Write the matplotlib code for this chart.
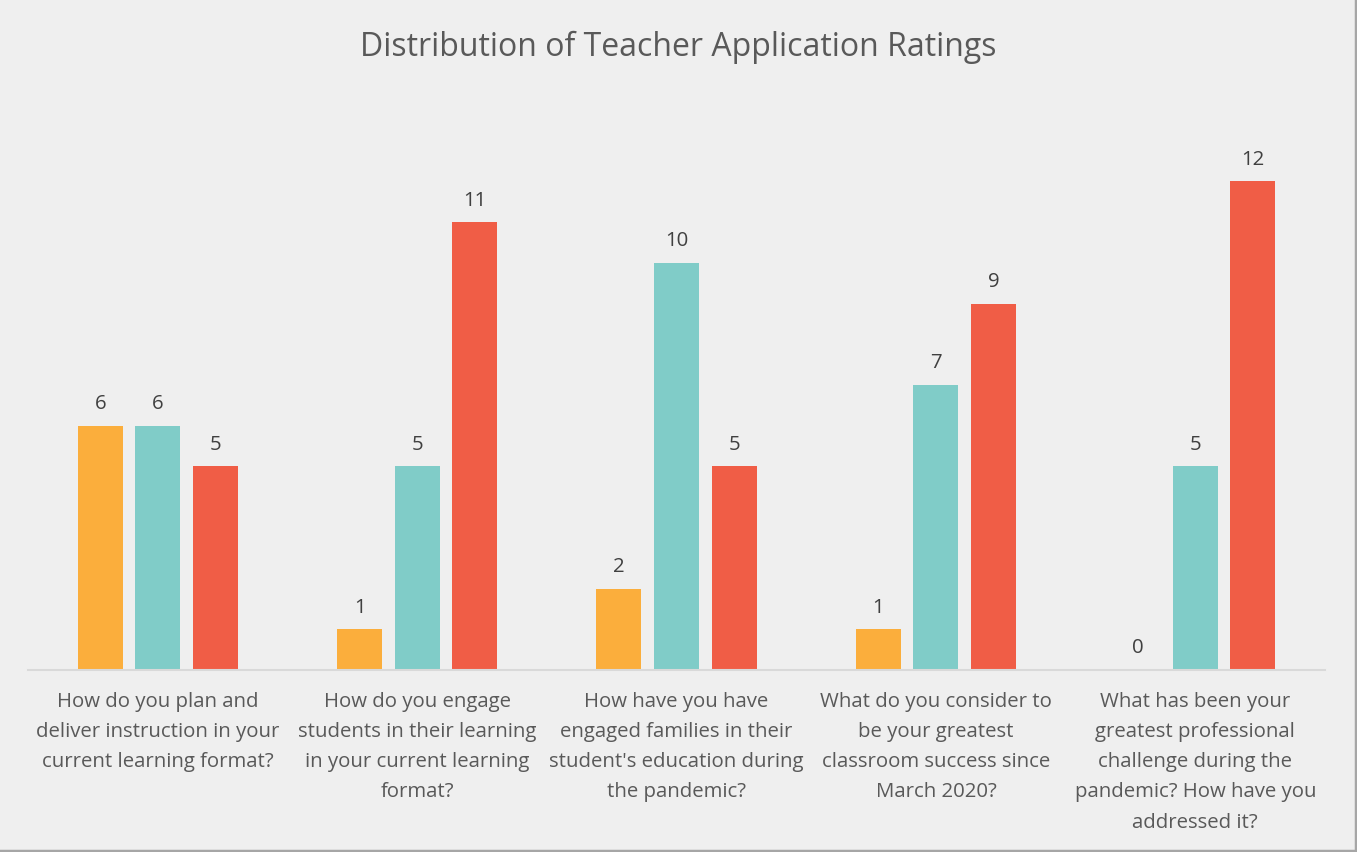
import numpy as np
import matplotlib
matplotlib.use("Agg")
import matplotlib.pyplot as plt
from matplotlib.lines import Line2D

plt.rcParams['font.family'] = ['Open Sans', 'DejaVu Sans']

questions = [
    "How do you plan and\ndeliver instruction in your\ncurrent learning format?",
    "How do you engage\nstudents in their learning\nin your current learning\nformat?",
    "How have you have\nengaged families in their\nstudent's education during\nthe pandemic?",
    "What do you consider to\nbe your greatest\nclassroom success since\nMarch 2020?",
    "What has been your\ngreatest professional\nchallenge during the\npandemic? How have you\naddressed it?",
]
series_names = ["Rating 1", "Rating 2", "Rating 3"]
rating_1 = [6, 1, 2, 1, 0]
rating_2 = [6, 5, 10, 7, 5]
rating_3 = [5, 11, 5, 9, 12]
colors = ["#FBAE3C", "#80CCC8", "#F05D46"]

bg = "#EFEFEF"
W, H = 1357, 853
fig = plt.figure(figsize=(W / 100, H / 100), dpi=100, facecolor=bg)
ax = fig.add_axes([28 / W, (H - 671) / H, (1325 - 28) / W, 570 / H], facecolor=bg)

x = np.arange(len(questions))
width = 0.1735
step = 0.2217
for i, (vals, c, name) in enumerate(zip([rating_1, rating_2, rating_3], colors, series_names)):
    bars = ax.bar(x + (i - 1) * step, vals, width, color=c, label=name)
    ax.bar_label(bars, padding=9, fontsize=14.7, color="#404040")

ax.set_xlim(-0.5, len(questions) - 0.5)
ax.set_ylim(0, 14)
ax.set_yticks([])
ax.set_xticks(x)
ax.set_xticklabels(questions, fontsize=14.7, color="#595959", linespacing=1.68)
ax.tick_params(axis='x', length=0, pad=15)
for s in ["top", "right", "left"]:
    ax.spines[s].set_visible(False)
ax.spines["bottom"].set_color("#D9D9D9")
ax.spines["bottom"].set_linewidth(1.5)

fig.text(0.5, 1 - 47 / H, "Distribution of Teacher Application Ratings",
         ha="center", va="center", fontsize=23, color="#595959")

# shadow border on right and bottom
fig.add_artist(Line2D([1 - 1.5 / W, 1 - 1.5 / W], [0, 1], transform=fig.transFigure, color="#A6A6A6", lw=2.5))
fig.add_artist(Line2D([0, 1], [1.5 / H, 1.5 / H], transform=fig.transFigure, color="#A6A6A6", lw=2.5))

fig.savefig("out.png", dpi=100, facecolor=bg)
